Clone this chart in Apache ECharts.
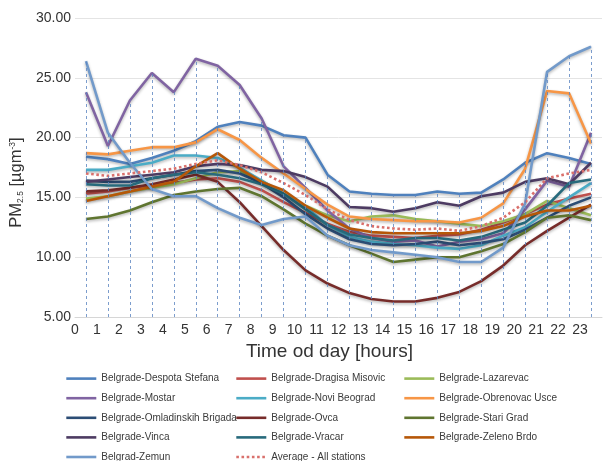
<!DOCTYPE html>
<html>
<head>
<meta charset="utf-8">
<script src="https://cdn.jsdelivr.net/npm/echarts@6/dist/echarts.min.js"></script>
<style>
html,body{margin:0;padding:0;background:#fff;}
#chart{width:605px;height:461px;}
</style>
</head>
<body>
<div id="chart"></div>
<script>
var hours = [0,1,2,3,4,5,6,7,8,9,10,11,12,13,14,15,16,17,18,19,20,21,22,23];
var xTickLabels = ['0','1','2','3','4','5','6','7','8','9','10','11','12','13','14','15','16','17','18','19','20','21','22','23'];

var despotaStefana    = [18.4,18.2,17.8,18.3,18.9,19.7,20.9,21.3,21.0,20.2,20.0,16.9,15.5,15.3,15.2,15.2,15.5,15.3,15.4,16.5,17.9,18.7,18.3,17.8];
var dragisaMisovic    = [15.3,15.5,15.8,16.0,16.2,16.5,16.6,16.3,15.6,14.6,13.7,12.8,12.1,11.8,11.7,11.6,11.8,11.9,12.3,12.9,13.6,14.4,14.9,15.3];
var lazarevac         = [14.9,15.1,15.5,15.8,16.1,16.6,17.1,17.2,16.4,15.3,14.3,13.5,13.0,13.4,13.5,13.2,13.0,12.8,12.6,13.0,13.6,14.7,14.1,13.5];
var mostar            = [23.8,19.3,23.1,25.4,23.8,26.6,26.0,24.4,21.6,17.6,15.8,13.9,12.4,11.6,11.3,11.4,10.9,11.3,11.5,12.0,14.0,16.4,15.9,20.4];
var noviBeograd       = [17.3,17.3,17.6,17.9,18.5,18.5,18.3,17.5,16.4,15.3,14.2,12.7,11.7,11.3,11.1,11.0,10.8,10.7,11.0,11.8,12.5,13.8,15.0,16.2];
var obrenovacUsce     = [18.7,18.6,18.9,19.2,19.2,19.6,20.7,19.8,18.3,17.0,15.7,14.4,13.4,13.2,13.1,13.0,13.0,12.9,13.3,14.5,17.4,23.9,23.7,19.5];
var omladinskihBrigada= [16.4,16.3,16.3,16.6,16.9,17.2,17.3,17.0,16.2,15.0,13.6,12.4,11.5,11.1,11.0,11.1,11.3,11.0,11.2,11.5,12.3,13.3,14.3,15.0];
var ovca              = [15.5,15.6,15.8,16.1,16.5,16.9,16.3,14.6,12.6,10.6,8.9,7.8,7.0,6.5,6.3,6.3,6.6,7.1,8.0,9.3,11.0,12.2,13.3,14.4];
var stariGrad         = [13.2,13.4,13.9,14.6,15.2,15.5,15.7,15.8,15.1,14.0,12.8,11.8,11.0,10.3,9.6,9.8,10.0,10.0,10.5,11.1,12.1,13.3,13.5,13.1];
var vinca             = [16.3,16.5,16.7,16.9,17.1,17.6,17.8,17.7,17.3,17.2,16.7,15.9,14.2,14.1,13.8,14.1,14.6,14.3,15.1,15.4,16.3,16.6,16.1,17.9];
var vracar            = [16.1,16.0,16.0,16.6,16.9,17.1,16.9,16.6,16.1,15.3,14.0,12.7,11.9,11.6,11.4,11.6,11.6,11.4,11.7,12.3,12.9,14.3,16.2,16.5];
var zelenoBrdo        = [14.7,15.1,15.5,15.9,16.3,17.6,18.7,17.4,16.3,15.6,14.3,13.3,12.4,12.1,12.0,12.0,12.0,12.0,12.2,12.6,13.4,13.9,13.9,14.3];
var zemun             = [26.4,20.4,17.9,15.7,15.1,15.1,14.1,13.3,12.7,13.2,13.4,11.8,11.0,10.6,10.4,10.2,10.0,9.6,9.6,10.8,14.5,25.5,26.8,27.6];
var averageAll        = [17.0,16.8,17.0,17.2,17.4,17.8,18.1,17.7,17.1,16.2,15.2,14.0,13.1,12.6,12.4,12.3,12.4,12.2,12.6,13.3,14.6,16.6,17.0,17.3];

var stations = [
  {name:'Belgrade-Despota Stefana', data:despotaStefana, color:'#4F81BD'},
  {name:'Belgrade-Dragisa Misovic', data:dragisaMisovic, color:'#C0504D'},
  {name:'Belgrade-Lazarevac', data:lazarevac, color:'#9BBB59'},
  {name:'Belgrade-Mostar', data:mostar, color:'#8064A2'},
  {name:'Belgrade-Novi Beograd', data:noviBeograd, color:'#4BACC6'},
  {name:'Belgrade-Obrenovac Usce', data:obrenovacUsce, color:'#F79646'},
  {name:'Belgrade-Omladinskih Brigada', data:omladinskihBrigada, color:'#2C4D75'},
  {name:'Belgrade-Ovca', data:ovca, color:'#772C2A'},
  {name:'Belgrade-Stari Grad', data:stariGrad, color:'#5F7530'},
  {name:'Belgrade-Vinca', data:vinca, color:'#4D3B62'},
  {name:'Belgrade-Vracar', data:vracar, color:'#276A7C'},
  {name:'Belgrade-Zeleno Brdo', data:zelenoBrdo, color:'#B65708'},
  {name:'Belgrad-Zemun', data:zemun, color:'#729ACA'}
];
var averageName = 'Average - All stations';

function pts(arr){ return hours.map(function(h,i){ return [h+0.5, arr[i]]; }); }

var series = [];
// drop lines from the highest value of each hour down to the axis
var dropData = hours.map(function(h,i){
  var m = -Infinity;
  stations.forEach(function(s){ if (s.data[i] > m) m = s.data[i]; });
  return [{coord:[h+0.5, 5]}, {coord:[h+0.5, m]}];
});
series.push({
  type:'line', name:'drop', data:[], z:1, silent:true,
  markLine:{silent:true, symbol:['none','none'], label:{show:false},
    lineStyle:{color:'#5B84C0', width:1, type:[3,3], opacity:0.8},
    animation:false, data:dropData}
});
stations.forEach(function(s){
  series.push({
    type:'line', name:s.name, data:pts(s.data), symbol:'none', z:3,
    color:s.color,
    lineStyle:{color:s.color, width:2.6, shadowColor:'rgba(0,0,0,0.3)', shadowBlur:3, shadowOffsetY:1.5}
  });
});
series.push({
  type:'line', name:averageName, data:pts(averageAll), symbol:'none', z:4,
  color:'#D9706C',
  lineStyle:{color:'#D9706C', width:2.6, type:'dotted'}
});

var col1 = ['Belgrade-Despota Stefana','Belgrade-Mostar','Belgrade-Omladinskih Brigada','Belgrade-Vinca','Belgrad-Zemun'];
var col2 = ['Belgrade-Dragisa Misovic','Belgrade-Novi Beograd','Belgrade-Ovca','Belgrade-Vracar', averageName];
var col3 = ['Belgrade-Lazarevac','Belgrade-Obrenovac Usce','Belgrade-Stari Grad','Belgrade-Zeleno Brdo'];

function legendAt(left, data){
  return {
    orient:'vertical', left:left, top:373, height:130, padding:0, itemWidth:30, itemHeight:14, itemGap:8.4,
    selectedMode:false,
    itemStyle:{opacity:0, borderWidth:0},
    lineStyle:{width:2.6, shadowBlur:0, shadowOffsetY:0},
    textStyle:{fontSize:10, color:'#3a3a3a', fontFamily:'Liberation Sans'},
    data:data
  };
}

var chart = echarts.init(document.getElementById('chart'), null, {renderer:'canvas'});
chart.setOption({
  animation:false,
  backgroundColor:'#fff',
  textStyle:{fontFamily:'Liberation Sans'},
  grid:{left:75, top:18, width:532, height:299, containLabel:false},
  legend:[legendAt(65,col1), legendAt(235,col2), legendAt(403,col3)],
  xAxis:{
    type:'value', min:0, max:24, interval:1,
    axisLine:{show:true, lineStyle:{color:'#d6d6d6'}},
    axisTick:{show:false},
    splitLine:{show:false},
    axisLabel:{fontSize:14, color:'#333', margin:6, formatter:function(v){ var i=hours.indexOf(v); return i>=0 ? xTickLabels[i] : ''; }},
    name:'Time od day [hours]', nameLocation:'middle', nameGap:25,
    nameTextStyle:{fontSize:19, color:'#333', padding:[0,18,0,0]}
  },
  yAxis:{
    type:'value', min:5, max:30, interval:5,
    axisLine:{show:false}, axisTick:{show:false},
    splitLine:{lineStyle:{color:'#e4e4e4', width:1}},
    axisLabel:{fontSize:14, color:'#333', margin:4, formatter:function(v){ return v.toFixed(2); }},
    name:'{a|PM}{s|2.5}{a| [\u00b5gm}{p|-3}{a|]}', nameLocation:'middle', nameRotate:90, nameGap:40,
    nameTextStyle:{color:'#333', padding:[0,30,0,0], rich:{
      a:{fontSize:16.5, color:'#333'},
      s:{fontSize:8.5, color:'#333', verticalAlign:'bottom', padding:[6,0,0,0]},
      p:{fontSize:8.5, color:'#333', verticalAlign:'top', padding:[0,0,8,0]}
    }}
  },
  series:series
});
</script>
</body>
</html>
